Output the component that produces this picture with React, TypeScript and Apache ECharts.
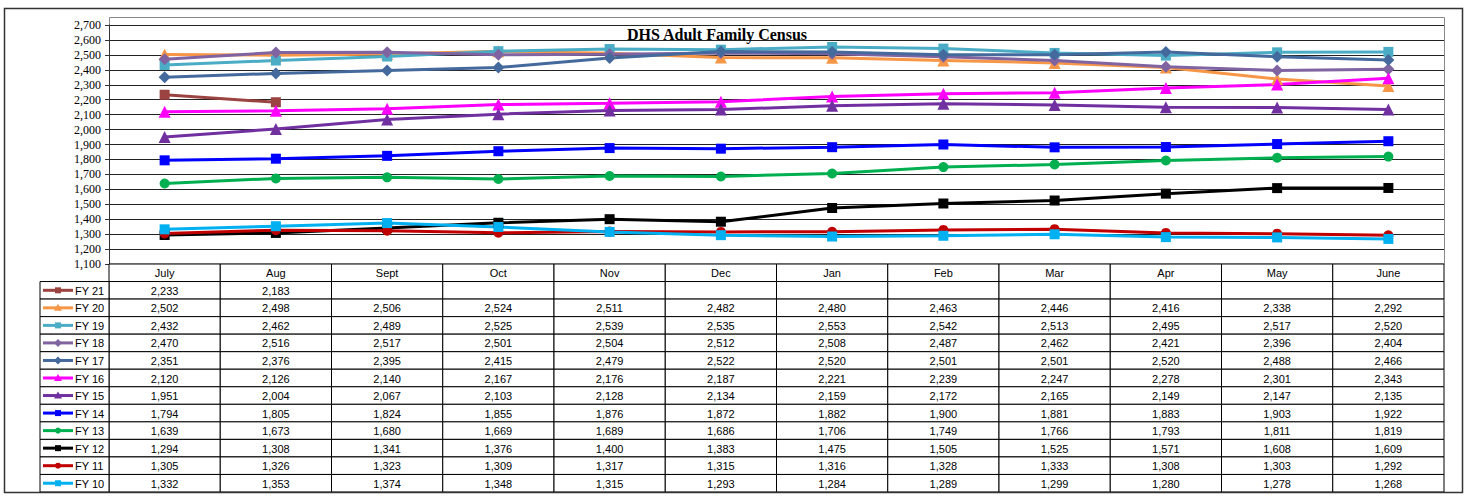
import React, { useEffect, useRef } from "react";
import * as echarts from "echarts";

const months = ["July", "Aug", "Sept", "Oct", "Nov", "Dec", "Jan", "Feb", "Mar", "Apr", "May", "June"];
const seriesNames = ["FY 21", "FY 20", "FY 19", "FY 18", "FY 17", "FY 16", "FY 15", "FY 14", "FY 13", "FY 12", "FY 11", "FY 10"];

const fy21 = [2233, 2183, null, null, null, null, null, null, null, null, null, null];
const fy20 = [2502, 2498, 2506, 2524, 2511, 2482, 2480, 2463, 2446, 2416, 2338, 2292];
const fy19 = [2432, 2462, 2489, 2525, 2539, 2535, 2553, 2542, 2513, 2495, 2517, 2520];
const fy18 = [2470, 2516, 2517, 2501, 2504, 2512, 2508, 2487, 2462, 2421, 2396, 2404];
const fy17 = [2351, 2376, 2395, 2415, 2479, 2522, 2520, 2501, 2501, 2520, 2488, 2466];
const fy16 = [2120, 2126, 2140, 2167, 2176, 2187, 2221, 2239, 2247, 2278, 2301, 2343];
const fy15 = [1951, 2004, 2067, 2103, 2128, 2134, 2159, 2172, 2165, 2149, 2147, 2135];
const fy14 = [1794, 1805, 1824, 1855, 1876, 1872, 1882, 1900, 1881, 1883, 1903, 1922];
const fy13 = [1639, 1673, 1680, 1669, 1689, 1686, 1706, 1749, 1766, 1793, 1811, 1819];
const fy12 = [1294, 1308, 1341, 1376, 1400, 1383, 1475, 1505, 1525, 1571, 1608, 1609];
const fy11 = [1305, 1326, 1323, 1309, 1317, 1315, 1316, 1328, 1333, 1308, 1303, 1292];
const fy10 = [1332, 1353, 1374, 1348, 1315, 1293, 1284, 1289, 1299, 1280, 1278, 1268];

const seriesValues = [fy21, fy20, fy19, fy18, fy17, fy16, fy15, fy14, fy13, fy12, fy11, fy10];
const seriesColors = ["#9B4340", "#F79646", "#4BACC6", "#8064A2", "#44699C", "#FF00FF", "#7030A0", "#0000FF", "#00B050", "#000000", "#C00000", "#00B0F0"];
const seriesSymbols = ["rect", "triangle", "rect", "diamond", "diamond", "triangle", "triangle", "rect", "circle", "rect", "circle", "rect"];

const yMin = 1100;
const yMax = 2700;
const yStep = 100;
const chartTitle = "DHS Adult Family Census";

const fmt = (v: number | null) => (v == null ? "" : v.toLocaleString("en-US"));

function markerShape(kind: string, cx: number, cy: number, r: number, color: string) {
  const style = { fill: color, stroke: color, lineWidth: 0 };
  if (kind === "circle") return { type: "circle", shape: { cx, cy, r }, style };
  if (kind === "rect") return { type: "rect", shape: { x: cx - r, y: cy - r, width: 2 * r, height: 2 * r }, style };
  if (kind === "triangle")
    return { type: "polygon", shape: { points: [[cx, cy - r - 1], [cx + r + 1, cy + r], [cx - r - 1, cy + r]] }, style };
  return { type: "polygon", shape: { points: [[cx, cy - r - 1], [cx + r + 1, cy], [cx, cy + r + 1], [cx - r - 1, cy]] }, style };
}

export default function App() {
  const ref = useRef<HTMLDivElement>(null);
  useEffect(() => {
    if (!ref.current) return;
    const chart = echarts.init(ref.current, undefined, { renderer: "svg" });

    const plotLeft = 109;
    const plotWidth = 1335;
    const plotTop = 25;
    const plotHeight = 239;
    const tableTop = plotTop + plotHeight;
    const tableHeight = 228;
    const rowCount = seriesNames.length + 1;
    const rowH = tableHeight / rowCount;

    const tableRows = ["header", ...seriesNames];
    const tableData: number[][] = [];
    const tableTexts: string[] = [];
    months.forEach((m, ci) => {
      tableData.push([ci, 0]);
      tableTexts.push(m);
      seriesValues.forEach((vals, si) => {
        tableData.push([ci, si + 1]);
        tableTexts.push(fmt(vals[ci]));
      });
    });

    const legendData = seriesNames.map((_, i) => [0, i]);

    const lineSeries = seriesNames.map((name, i) => ({
      name,
      type: "line",
      xAxisIndex: 0,
      yAxisIndex: 0,
      data: seriesValues[i],
      symbol: seriesSymbols[i],
      symbolSize: seriesSymbols[i] === "circle" ? 10 : seriesSymbols[i] === "rect" ? 10 : 12,
      showAllSymbol: true,
      connectNulls: false,
      itemStyle: { color: seriesColors[i] },
      lineStyle: { color: seriesColors[i], width: 3 },
      emphasis: { disabled: true },
      z: 3,
    }));

    chart.setOption({
      animation: false,
      backgroundColor: "#ffffff",
      grid: [
        { left: plotLeft, width: plotWidth, top: plotTop, height: plotHeight, containLabel: false },
        { left: plotLeft, width: plotWidth, top: tableTop, height: tableHeight, containLabel: false },
        { left: 40, width: plotLeft - 40, top: tableTop + rowH, height: tableHeight - rowH, containLabel: false },
      ],
      xAxis: [
        {
          type: "category",
          gridIndex: 0,
          data: months,
          boundaryGap: true,
          axisLabel: { show: false },
          axisTick: { show: false },
          axisLine: { show: false },
          splitLine: { show: false },
        },
        {
          type: "category",
          gridIndex: 1,
          data: months,
          boundaryGap: true,
          show: false,
        },
        {
          type: "category",
          gridIndex: 2,
          data: [""],
          boundaryGap: true,
          show: false,
        },
      ],
      yAxis: [
        {
          type: "value",
          gridIndex: 0,
          min: yMin,
          max: yMax,
          interval: yStep,
          axisLine: { show: true, lineStyle: { color: "#333", width: 1 } },
          axisTick: { show: true, inside: false, length: 4, lineStyle: { color: "#333" } },
          splitLine: { show: true, lineStyle: { color: "#222", width: 1 } },
          axisLabel: {
            margin: 8,
            color: "#000",
            fontFamily: "Liberation Serif, Times New Roman, serif",
            fontSize: 12,
            formatter: (v: number) => v.toLocaleString("en-US"),
          },
        },
        {
          type: "category",
          gridIndex: 1,
          data: tableRows,
          inverse: true,
          boundaryGap: true,
          show: false,
        },
        {
          type: "category",
          gridIndex: 2,
          data: seriesNames,
          inverse: true,
          boundaryGap: true,
          show: false,
        },
      ],
      title: {
        text: chartTitle,
        left: 622,
        top: 21,
        textStyle: {
          fontFamily: "Liberation Serif, Times New Roman, serif",
          fontWeight: "bold",
          fontSize: 16,
          color: "#000",
        },
      },
      graphic: [
        {
          type: "rect",
          shape: { x: 4.5, y: 8.5, width: 1458, height: 484 },
          style: { fill: "none", stroke: "#333", lineWidth: 1.5 },
          z: 100,
          silent: true,
        },
        {
          type: "rect",
          shape: { x: plotLeft + 0.5, y: 17.5, width: plotWidth, height: tableTop - 17.5 },
          style: { fill: "none", stroke: "#888", lineWidth: 1 },
          z: 0,
          silent: true,
        },
      ],
      series: [
        ...lineSeries,
        {
          type: "custom",
          name: "table",
          xAxisIndex: 1,
          yAxisIndex: 1,
          data: tableData,
          encode: { x: 0, y: 1 },
          silent: true,
          renderItem: (params: any, api: any) => {
            const c = api.coord([api.value(0), api.value(1)]);
            const s = api.size([1, 1]);
            const text = tableTexts[params.dataIndex];
            return {
              type: "group",
              children: [
                {
                  type: "rect",
                  shape: { x: c[0] - s[0] / 2, y: c[1] - s[1] / 2, width: s[0], height: s[1] },
                  style: { fill: "#fff", stroke: "#000", lineWidth: 1 },
                },
                {
                  type: "text",
                  style: {
                    text,
                    x: c[0],
                    y: c[1] + 0.5,
                    align: "center",
                    verticalAlign: "middle",
                    fontFamily: "Liberation Sans, Arial, sans-serif",
                    fontSize: 11,
                    fill: "#000",
                  },
                },
              ],
            };
          },
        },
        {
          type: "custom",
          name: "legendcells",
          xAxisIndex: 2,
          yAxisIndex: 2,
          data: legendData,
          encode: { x: 0, y: 1 },
          silent: true,
          renderItem: (params: any, api: any) => {
            const i = params.dataIndex;
            const c = api.coord([api.value(0), api.value(1)]);
            const s = api.size([1, 1]);
            const x0 = c[0] - s[0] / 2;
            const color = seriesColors[i];
            return {
              type: "group",
              children: [
                {
                  type: "rect",
                  shape: { x: x0, y: c[1] - s[1] / 2, width: s[0], height: s[1] },
                  style: { fill: "#fff", stroke: "#000", lineWidth: 1 },
                },
                {
                  type: "line",
                  shape: { x1: x0 + 3, y1: c[1], x2: x0 + 33, y2: c[1] },
                  style: { stroke: color, lineWidth: 3 },
                },
                markerShape(seriesSymbols[i], x0 + 18, c[1], 3, color),
                {
                  type: "text",
                  style: {
                    text: seriesNames[i],
                    x: x0 + 35,
                    y: c[1] + 0.5,
                    align: "left",
                    verticalAlign: "middle",
                    fontFamily: "Liberation Sans, Arial, sans-serif",
                    fontSize: 11,
                    fill: "#000",
                  },
                },
              ],
            };
          },
        },
      ],
    });

    return () => chart.dispose();
  }, []);

  return (
    <div
      ref={ref}
      style={{ position: "absolute", left: 0, top: 0, width: 1471, height: 496, background: "#fff" }}
    />
  );
}
